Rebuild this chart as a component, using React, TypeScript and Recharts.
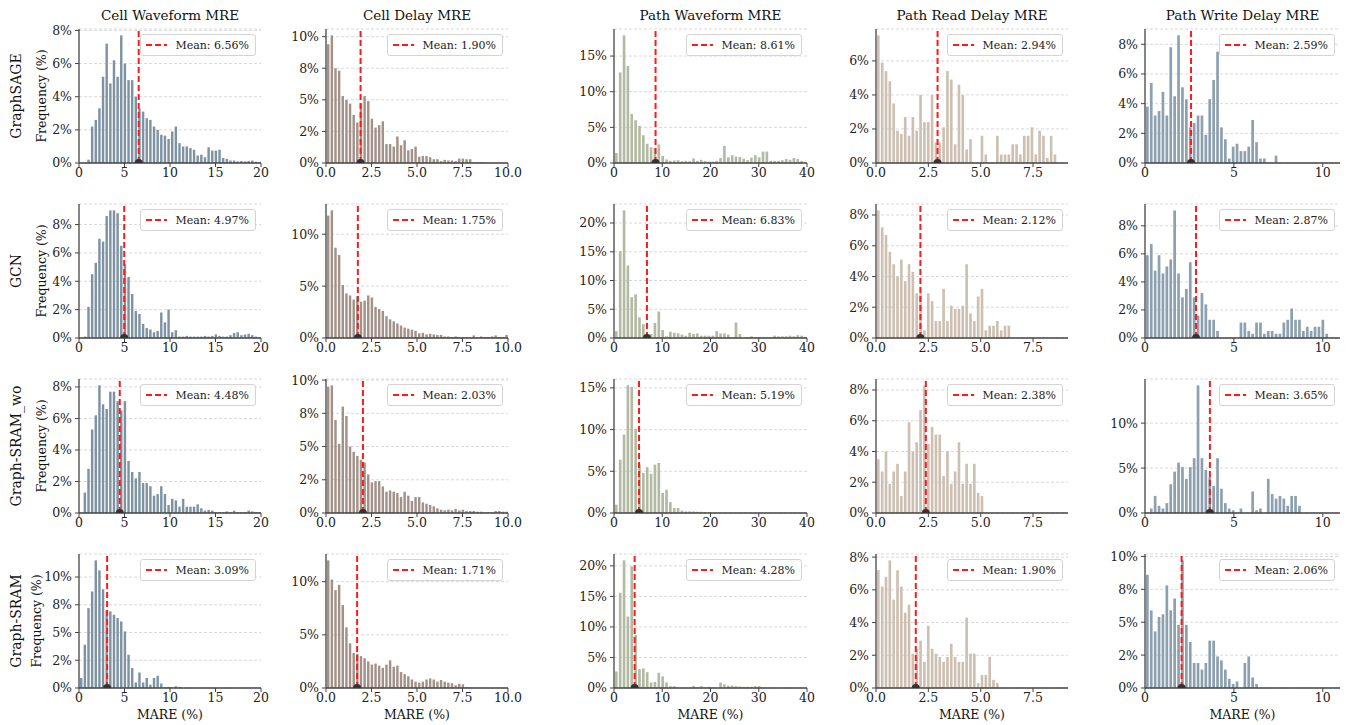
import React from "react";
import { BarChart, Bar, XAxis, YAxis, CartesianGrid, ReferenceLine, ReferenceDot } from "recharts";

// rows = models, columns = metrics
const models = ["GraphSAGE", "GCN", "Graph-SRAM_wo", "Graph-SRAM"];
const metrics = ["Cell Waveform MRE", "Cell Delay MRE", "Path Waveform MRE", "Path Read Delay MRE", "Path Write Delay MRE"];

// histogram bins start at 0, one value (% of samples) per bin
const binWidths = [0.4, 0.2, 0.8, 0.1834, 0.2194];
const xLimits = [20, 10, 40, 9.17, 10.97];
const xTicks = [[0, 5, 10, 15, 20], [0, 2.5, 5, 7.5, 10], [0, 10, 20, 30, 40], [0, 2.5, 5, 7.5], [0, 5, 10]];
const xDecimals = [0, 1, 0, 1, 0];

const means = [
  [6.56, 1.9, 8.61, 2.94, 2.59],
  [4.97, 1.75, 6.83, 2.12, 2.87],
  [4.48, 2.03, 5.19, 2.38, 3.65],
  [3.09, 1.71, 4.28, 1.9, 2.06],
];

const yTicks = [
  [[0, 2, 4, 6, 8], [0, 2.5, 5, 7.5, 10], [0, 5, 10, 15], [0, 2, 4, 6], [0, 2, 4, 6, 8]],
  [[0, 2, 4, 6, 8], [0, 5, 10], [0, 5, 10, 15, 20], [0, 2, 4, 6, 8], [0, 2, 4, 6, 8]],
  [[0, 2, 4, 6, 8], [0, 2.5, 5, 7.5, 10], [0, 5, 10, 15], [0, 2, 4, 6, 8], [0, 5, 10]],
  [[0, 2.5, 5, 7.5, 10], [0, 5, 10], [0, 5, 10, 15, 20], [0, 2, 4, 6, 8], [0, 2.5, 5, 7.5, 10]],
];

const sageCellWave = [0, 0, 0.2, 2.2, 2.6, 3.3, 5.2, 7.2, 4.8, 6.2, 5.2, 7.7, 6.0, 5.0, 5.0, 4.0, 3.3, 3.1, 2.7, 2.6, 2.2, 2.0, 1.7, 1.65, 1.45, 1.9, 2.2, 1.2, 1.0, 1.0, 0.9, 0.8, 0.45, 0.5, 0.35, 0.95, 0.75, 0.75, 0.8, 0.3, 0.25, 0.15, 0.15, 0.1, 0.12, 0.1, 0.12, 0.15, 0.08, 0.06];
const sageCellDelay = [9.4, 10.1, 7.5, 7.3, 5.3, 5.0, 4.7, 3.8, 3.2, 4.7, 5.3, 4.9, 3.5, 2.8, 3.0, 3.3, 1.5, 1.5, 1.3, 2.1, 1.4, 1.8, 1.0, 1.1, 1.3, 0.5, 0.55, 0.55, 0.45, 0.3, 0.3, 0.15, 0.25, 0.2, 0.2, 0.15, 0.35, 0.35, 0.3, 0.3, 0.05, 0.05, 0.05, 0.05];
const sagePathWave = [1.4, 12.7, 17.9, 13.6, 6.9, 6.0, 5.2, 3.9, 2.7, 2.2, 2.1, 2.6, 1.0, 0.5, 0.3, 0.35, 0.4, 0.25, 0.3, 0.25, 0.65, 0.3, 0.45, 0.3, 0.2, 0.2, 0.3, 0.7, 2.4, 0.8, 1.1, 0.9, 0.85, 0.6, 0.4, 0.75, 1.1, 0.8, 1.6, 1.6, 0.3, 0.3, 0.3, 0.4, 0.55, 0.45, 0.7, 0.55, 0.3];
const sagePathRead = [7.5, 5.9, 5.4, 4.8, 3.5, 1.9, 1.7, 2.7, 1.6, 2.7, 1.9, 4.0, 2.4, 2.4, 4.0, 1.2, 1.2, 2.1, 5.4, 4.9, 1.1, 4.6, 4.0, 0.8, 1.4, 0, 0, 1.6, 0.5, 0, 0, 1.6, 0.5, 0.5, 0.5, 1.1, 1.1, 0.5, 1.6, 1.6, 2.1, 0.5, 1.9, 1.6, 0.3, 1.6, 0.5];
const sagePathWrite = [3.8, 5.4, 3.2, 3.5, 4.8, 3.2, 7.8, 4.5, 8.6, 5.1, 4.3, 2.4, 2.7, 3.2, 3.2, 1.9, 4.3, 5.6, 7.5, 2.4, 1.6, 0.3, 1.1, 1.3, 0.8, 0.8, 1.1, 2.9, 1.4, 0.3, 0.3, 0, 0, 0.5];

const gcnCellWave = [0, 0.1, 2.2, 4.5, 5.3, 7.0, 6.8, 8.6, 9.0, 9.0, 8.8, 6.5, 5.2, 4.3, 3.1, 1.9, 1.7, 1.0, 0.7, 0.6, 0.4, 0.5, 1.8, 1.1, 2.0, 0.4, 0.55, 0.1, 0.1, 0.15, 0.1, 0.1, 0.1, 0.1, 0.15, 0.1, 0.15, 0.25, 0.15, 0.1, 0.1, 0.2, 0.35, 0.4, 0.2, 0.25, 0.3, 0.2, 0.1, 0.05];
const gcnCellDelay = [11.8, 12.3, 8.7, 8.0, 5.1, 4.3, 4.1, 3.7, 4.0, 3.5, 3.6, 4.1, 3.9, 3.0, 2.8, 2.6, 2.1, 1.8, 1.6, 1.4, 1.2, 1.0, 0.9, 0.8, 0.7, 0.45, 0.5, 0.35, 0.4, 0.35, 0.3, 0.3, 0.15, 0.15, 0.1, 0.15, 0.1, 0.05, 0.1, 0.05, 0.25, 0.1, 0.15, 0.1, 0.1, 0.15, 0.25, 0.1, 0.1, 0.3];
const gcnPathWave = [1.2, 15.1, 22.2, 12.6, 7.1, 7.6, 3.6, 2.4, 0.3, 0.7, 2.6, 4.6, 1.4, 0.3, 1.1, 0.9, 0.8, 0.6, 0.4, 0.9, 0.7, 0.8, 0.4, 0.4, 0.4, 0.4, 1.2, 0.8, 0.8, 0.6, 0, 2.7, 0.7, 0, 0.1, 0.3, 0.05, 0.1, 0.1, 0.05, 0.1, 0.4, 0.3, 0.3, 0.3, 0.4, 0.3, 0.5, 0.4, 0.2];
const gcnPathRead = [8.3, 7.2, 6.7, 5.6, 4.8, 4.0, 5.1, 3.7, 4.8, 4.3, 2.9, 2.9, 0.5, 2.9, 2.4, 1.1, 1.1, 3.2, 1.1, 2.1, 1.9, 1.9, 2.1, 4.8, 1.6, 1.1, 2.7, 3.2, 0.5, 0.8, 0.8, 1.1, 0.5, 0.8, 0.8];
const gcnPathWrite = [5.9, 6.7, 4.8, 5.9, 4.6, 5.1, 5.6, 9.1, 4.6, 2.9, 3.5, 5.4, 2.9, 1.6, 3.2, 2.4, 1.3, 1.3, 0.5, 0, 0, 0, 0, 0, 1.1, 1.1, 0.5, 0.3, 1.1, 1.1, 0.3, 0.5, 0.5, 0.3, 0.3, 1.1, 1.3, 2.1, 1.3, 1.3, 0.5, 0.8, 0.5, 0.8, 0.8, 1.3, 0.3];

const woCellWave = [0, 1.3, 2.8, 5.3, 6.2, 8.1, 6.9, 6.6, 7.7, 7.7, 7.1, 6.5, 7.1, 3.3, 2.6, 2.2, 2.6, 1.9, 1.9, 1.7, 1.1, 1.2, 1.7, 1.2, 0.5, 0.9, 0.8, 0.4, 0.9, 0.4, 0.4, 0.4, 0.55, 0.3, 0.15, 0.2, 0.15, 0.05, 0.05, 0.05, 0.1, 0.05, 0.15, 0.05, 0.05, 0.05, 0.15, 0.1, 0.05, 0.05];
const woCellDelay = [9.5, 9.6, 7.0, 5.2, 8.0, 7.3, 5.0, 4.6, 4.3, 4.0, 3.8, 2.9, 2.3, 2.4, 2.4, 2.0, 1.6, 1.7, 1.6, 1.5, 1.2, 1.6, 1.3, 0.9, 1.2, 1.2, 0.8, 0.7, 0.6, 0.5, 0.35, 0.25, 0.2, 0.25, 0.2, 0.3, 0.2, 0.25, 0.15, 0.15, 0.15, 0.1, 0.1, 0.05, 0.05, 0.05, 0.15, 0.15, 0.1, 0.1];
const woPathWave = [1.0, 6.4, 9.4, 15.3, 15.1, 10.1, 5.8, 4.8, 5.5, 4.7, 5.8, 6.0, 2.4, 2.8, 1.3, 0.6, 0.6, 0.3, 0.2, 0.2, 0.2, 0.15, 0.15, 0.1, 0.05];
const woPathRead = [3.5, 2.7, 4.0, 1.9, 2.7, 3.2, 1.1, 2.7, 5.9, 4.0, 4.6, 6.7, 8.3, 4.5, 5.6, 5.1, 5.1, 2.4, 4.0, 1.9, 2.7, 4.6, 1.9, 3.2, 1.9, 3.2, 1.3, 1.1];
const woPathWrite = [0, 0.5, 1.9, 0.8, 0.5, 1.1, 3.2, 4.6, 5.6, 5.1, 3.8, 5.1, 6.1, 14.2, 6.1, 4.8, 4.0, 3.0, 6.1, 2.7, 1.1, 0.5, 0.3, 0, 0.5, 0, 0, 2.4, 0.3, 0.5, 0, 3.8, 2.1, 1.6, 1.9, 1.6, 0.8, 1.9, 1.9, 0.8];

const sramCellWave = [0.9, 3.9, 7.2, 8.7, 11.5, 10.6, 8.9, 7.0, 6.9, 6.6, 6.3, 6.0, 5.1, 3.0, 1.8, 0.5, 1.4, 0.5, 0.9, 0.3, 0.9, 1.1, 0.4, 0.05, 0.1, 0.05, 0.15, 0.1];
const sramCellDelay = [12.0, 10.2, 9.2, 9.7, 7.8, 5.7, 4.2, 3.3, 3.2, 3.0, 2.8, 2.5, 2.2, 2.3, 2.1, 1.9, 2.2, 2.6, 2.0, 2.1, 1.5, 1.3, 1.1, 0.8, 0.6, 0.5, 0.6, 0.8, 0.9, 0.8, 0.6, 0.75, 0.6, 0.5, 0.45, 0.25, 0.4, 0.35, 0.1, 0.05];
const sramPathWave = [2.7, 15.6, 20.9, 11.7, 19.9, 8.7, 3.1, 3.2, 2.6, 0.9, 1.0, 2.5, 1.9, 0.9, 0.3, 0.3, 0, 0, 0, 0, 0.35, 0.1, 0.3, 0.1, 0.2, 0.1, 0, 0.9, 0.6, 0.4, 0.4, 0.3, 0.25, 0.2, 0.2, 0.2, 0.3, 0.3, 0.1];
const sramPathRead = [7.2, 6.2, 6.8, 7.8, 5.4, 7.2, 6.2, 4.6, 5.1, 2.1, 2.4, 2.9, 1.6, 3.8, 2.4, 2.1, 1.9, 1.6, 1.9, 2.7, 1.9, 1.6, 1.6, 4.3, 2.1, 2.1, 0.3, 0.8, 0.8, 1.9, 0.5, 0.3];
const sramPathWrite = [8.6, 5.9, 4.3, 5.4, 5.6, 7.8, 5.9, 6.8, 4.8, 9.7, 4.8, 3.5, 1.9, 1.9, 1.4, 1.9, 3.6, 3.6, 2.4, 2.1, 1.4, 0.7, 0.3, 0.5, 0, 1.9, 2.4, 0.8, 0.3];

const histograms = [
  [sageCellWave, sageCellDelay, sagePathWave, sagePathRead, sagePathWrite],
  [gcnCellWave, gcnCellDelay, gcnPathWave, gcnPathRead, gcnPathWrite],
  [woCellWave, woCellDelay, woPathWave, woPathRead, woPathWrite],
  [sramCellWave, sramCellDelay, sramPathWave, sramPathRead, sramPathWrite],
];

const barColors = ["#7d92a3", "#a29189", "#b3baa3", "#cdbfb1", "#8da0af"];

// plot-area pixel boxes
const COL_X = [[79, 261], [326, 508], [614, 807], [876, 1068], [1145, 1340]];
const ROW_Y = [[29, 163], [204, 338], [379, 513], [554, 688]];
// ylabel sits further left when the tick labels are wider
const FREQ_X = [46, 46, 46, 41];

const FONT = "'DejaVu Serif', serif";
const AXIS = "#444";

const fmtPct = (v: number) => {
  let r = Math.round(v);
  if (Math.abs(v - Math.trunc(v)) === 0.5) r = 2 * Math.round(v / 2); // half-to-even like python
  return `${r}%`;
};

const HalfDot = (props: any) => {
  const { cx, cy } = props;
  if (cx == null || cy == null) return null;
  const r = 4;
  return <path d={`M${cx - r},${cy} A${r},${r} 0 0 1 ${cx + r},${cy} Z`} fill="#333" />;
};

function Panel({ row, col }: { row: number; col: number }) {
  const values = histograms[row][col];
  const w = binWidths[col];
  const data = values.map((v, i) => ({ x: (i + 0.5) * w, y: v }));
  const [pl, pr] = COL_X[col];
  const [pt, pb] = ROW_Y[row];
  const plotW = pr - pl;
  const plotH = pb - pt;
  const ml = 50, mt = 8, mr = 24, mb = 30;
  const barSize = Math.max(1, (plotW / xLimits[col]) * w - 1.2);
  const yMax = Math.max(...values) * 1.05;
  const mean = means[row][col];
  const tickStyle = { fontSize: 12.5, fill: "#222", fontFamily: FONT };

  return (
    <div style={{ position: "absolute", left: pl - ml, top: pt - mt }}>
      <BarChart
        width={plotW + ml + mr}
        height={plotH + mt + mb}
        data={data}
        margin={{ top: mt, right: mr, left: 0, bottom: 0 }}
        barGap={0}
        barCategoryGap={0}
      >
        <CartesianGrid vertical={false} stroke="#d9d9d9" strokeDasharray="3 2" />
        <XAxis
          type="number"
          dataKey="x"
          domain={[0, xLimits[col]]}
          ticks={xTicks[col]}
          allowDataOverflow
          height={mb}
          tick={tickStyle}
          tickSize={4}
          tickMargin={1}
          axisLine={{ stroke: AXIS, strokeWidth: 1.3 }}
          tickLine={{ stroke: AXIS, strokeWidth: 1 }}
          tickFormatter={(v: number) => v.toFixed(xDecimals[col])}
          interval={0}
        />
        <YAxis
          type="number"
          domain={[0, yMax]}
          ticks={yTicks[row][col]}
          allowDataOverflow
          width={ml}
          tick={tickStyle}
          tickSize={4}
          tickMargin={3}
          axisLine={{ stroke: AXIS, strokeWidth: 1.3 }}
          tickLine={{ stroke: AXIS, strokeWidth: 1 }}
          tickFormatter={fmtPct}
          interval={0}
        />
        <Bar dataKey="y" fill={barColors[col]} barSize={barSize} isAnimationActive={false} />
        <ReferenceLine x={mean} stroke="#ff1a1a" strokeWidth={2} strokeDasharray="6 3" />
        <ReferenceDot x={mean} y={0} shape={HalfDot} />
      </BarChart>
    </div>
  );
}

function MeanLegend({ row, col }: { row: number; col: number }) {
  const [, pr] = COL_X[col];
  const [pt] = ROW_Y[row];
  return (
    <div
      style={{
        position: "absolute",
        right: 1348 - (pr - 5),
        top: pt + 5,
        height: 20,
        display: "flex",
        alignItems: "center",
        padding: "0 6px 0 5px",
        border: "1px solid #d4d4d4",
        borderRadius: 3,
        background: "rgba(255,255,255,0.85)",
        fontFamily: FONT,
        fontSize: 11,
        color: "#222",
        whiteSpace: "nowrap",
      }}
    >
      <svg width={21} height={4} style={{ marginRight: 8 }}>
        <line x1={0} y1={2} x2={21} y2={2} stroke="#ff1a1a" strokeWidth={2} strokeDasharray="6 3" />
      </svg>
      Mean: {means[row][col].toFixed(2)}%
    </div>
  );
}

export default function App() {
  return (
    <div style={{ position: "absolute", left: 0, top: 0, width: 1348, height: 725, background: "#fff" }}>
      <svg width={1348} height={725} style={{ position: "absolute", left: 0, top: 0 }}>
        {metrics.map((m, c) => (
          <text key={m} x={(COL_X[c][0] + COL_X[c][1]) / 2} y={20} textAnchor="middle" fontFamily={FONT} fontSize={13.5} fill="#111">
            {m}
          </text>
        ))}
        {models.map((m, r) => {
          const cy = (ROW_Y[r][0] + ROW_Y[r][1]) / 2;
          const fx = FREQ_X[r];
          return (
            <g key={m}>
              <text x={21} y={cy} transform={`rotate(-90 21 ${cy})`} textAnchor="middle" fontFamily={FONT} fontSize={14} fill="#111">
                {m}
              </text>
              <text x={fx} y={cy} transform={`rotate(-90 ${fx} ${cy})`} textAnchor="middle" fontFamily={FONT} fontSize={12.5} fill="#111">
                Frequency (%)
              </text>
            </g>
          );
        })}
        {metrics.map((m, c) => (
          <text key={`x-${m}`} x={(COL_X[c][0] + COL_X[c][1]) / 2} y={719} textAnchor="middle" fontFamily={FONT} fontSize={12.5} fill="#111">
            MARE (%)
          </text>
        ))}
      </svg>
      {models.map((_, r) =>
        metrics.map((__, c) => <Panel key={`${r}-${c}`} row={r} col={c} />)
      )}
      {models.map((_, r) =>
        metrics.map((__, c) => <MeanLegend key={`l-${r}-${c}`} row={r} col={c} />)
      )}
    </div>
  );
}
